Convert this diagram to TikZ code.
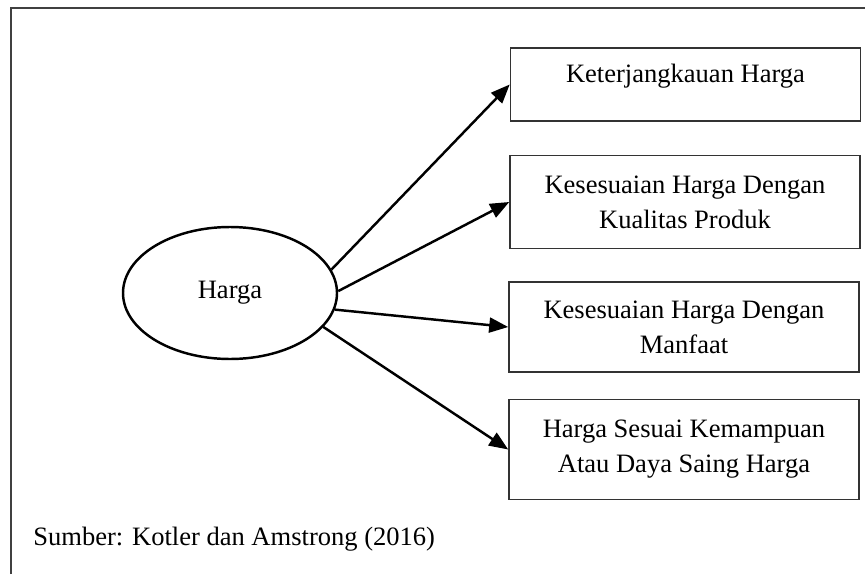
\documentclass[tikz,border=0pt]{standalone}
\usepackage{fontspec}
\setmainfont{Liberation Serif}
\usetikzlibrary{arrows.meta, shapes.geometric}

\begin{document}
\begin{tikzpicture}[font=\fontsize{15.1}{19.9}\selectfont, line join=miter,
	kotak/.style={draw=black!80, line width=0.9pt, minimum width=7cm, align=center, inner sep=0pt},
	panah/.style={-{Triangle[length=0.38cm, width=0.3cm]}, line width=1.4pt}]
	
	\useasboundingbox (0, 0) rectangle (17.3, 11.48);
	
	% Bingkai
	\draw[black!75, line width=1.1pt] (0.22, 0) -- (0.22, 11.32) -- (17.3, 11.32);
	
	% Variabel
	\node[draw, ellipse, line width=1.4pt, minimum width=4.28cm, minimum height=2.64cm, inner sep=0pt] (harga) at (4.6, 5.62) {Harga};
	
	% Indikator
	\node[kotak, minimum height=1.46cm, text depth=0.46cm] (keterjangkauan) at (13.71, 9.79) {Keterjangkauan Harga};
	\node[kotak, minimum height=1.86cm] (kualitas) at (13.7, 7.44) {Kesesuaian Harga Dengan\\Kualitas Produk};
	\node[kotak, minimum height=1.8cm] (manfaat) at (13.68, 4.94) {Kesesuaian Harga Dengan\\Manfaat};
	\node[kotak, minimum height=2cm] (dayasaing) at (13.68, 2.49) {Harga Sesuai Kemampuan\\Atau Daya Saing Harga};
	
	% Panah
	\draw[panah] (harga.13) -- (keterjangkauan.west);
	\draw[panah] (harga.1) -- (kualitas.west);
	\draw[panah] (harga.-9) -- (manfaat.west);
	\draw[panah] (harga.-20) -- (dayasaing.west);
	
	% Sumber
	\node[anchor=base west, inner sep=0pt] (sumber) at (0.66, 0.58) {Sumber: Kotler dan Amstrong (2016)};
	
\end{tikzpicture}
\end{document}
